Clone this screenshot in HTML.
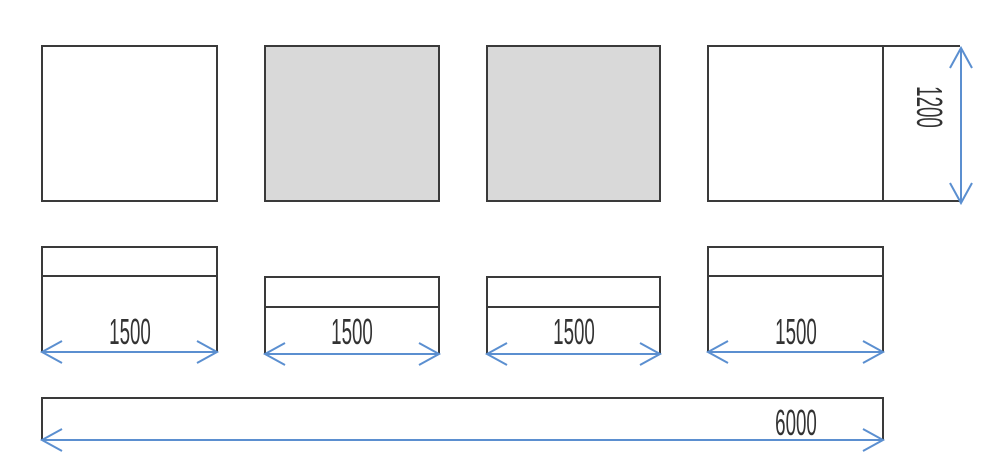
<!DOCTYPE html>
<html><head><style>html,body{margin:0;padding:0;background:#fff;width:1000px;height:476px;overflow:hidden}</style></head>
<body>
<svg width="1000" height="476" viewBox="0 0 1000 476" xmlns="http://www.w3.org/2000/svg">
<g stroke="#3a3a3a" stroke-width="2" fill="none">
<rect x="42" y="46" width="175" height="155" fill="#fff"/>
<rect x="265" y="46" width="174" height="155" fill="#d9d9d9"/>
<rect x="487" y="46" width="173" height="155" fill="#d9d9d9"/>
<path d="M960 46H708V201H960M883 46V201"/>
<path d="M42 352V247H217V352M42 276H217"/>
<path d="M708 352V247H883V352M708 276H883"/>
<path d="M265 354V277H439V354M265 307H439"/>
<path d="M487 354V277H660V354M487 307H660"/>
<path d="M42 440V398H883V440"/>
</g>
<g stroke="#5b8fd0" stroke-width="2" fill="none">
<path d="M42 352H217M62 341L42 352L62 363M197 341L217 352L197 363"/>
<path d="M708 352H883M728 341L708 352L728 363M863 341L883 352L863 363"/>
<path d="M265 354H439M285 343L265 354L285 365M419 343L439 354L419 365"/>
<path d="M487 354H660M507 343L487 354L507 365M640 343L660 354L640 365"/>
<path d="M42 440H883M62 429L42 440L62 451M863 429L883 440L863 451"/>
<path d="M961 48V203M950 68L961 48L972 68M950 183L961 203L972 183"/>
</g>
<g font-family="Liberation Sans, sans-serif" font-size="36" fill="#333" text-anchor="middle">
<text transform="translate(130,344) scale(0.52,1)">1500</text>
<text transform="translate(352,344) scale(0.52,1)">1500</text>
<text transform="translate(574,344) scale(0.52,1)">1500</text>
<text transform="translate(796,344) scale(0.52,1)">1500</text>
<text transform="translate(796,435) scale(0.52,1)">6000</text>
<text transform="translate(917,107) rotate(90) scale(0.52,1)">1200</text>
</g>
</svg>
</body></html>
